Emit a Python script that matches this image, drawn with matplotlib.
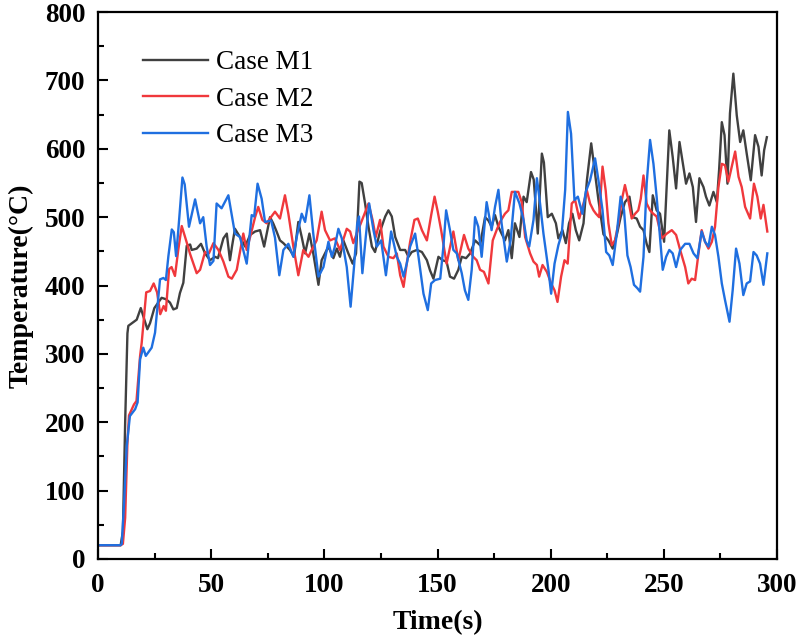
import matplotlib

matplotlib.use("Agg")
import matplotlib.pyplot as plt
from matplotlib.ticker import MultipleLocator

# Case M1 (dark grey)
t_m1 = [0, 10, 11, 12, 13, 13.4, 17.1, 18.9, 20.5, 21.8, 23, 24.9, 28.1, 30, 31.8, 33.3,
        34.8, 36.2, 37.7, 39.2, 40.7, 41.4, 43.6, 45.5, 47.3, 49.5, 51.7, 53, 55.4, 56.9,
        58.3, 59.2, 60.5, 62.7, 65.0, 67.2, 69.4, 71.6, 73.4, 76.0, 77.4, 78.9, 80.4, 81.9,
        84.8, 86.6, 88.5, 90.0, 91.5, 93.4, 95.1, 97.4, 98.8, 100.3, 101.8, 104.0, 105.5,
        106.9, 108.4, 110.6, 112.5, 114.0, 115.5, 116.5, 118.0, 119.5, 121.0, 122.4, 124.6,
        126.9, 128.3, 129.8, 131.3, 133.5, 135.7, 137.2, 138.6, 140.9, 143.1, 145.3, 146.7,
        148.2, 150.4, 152.2, 154.0, 155.5, 157.3, 159.2, 160.7, 162.6, 164.4, 166.6, 168.8,
        171.0, 172.5, 173.9, 175.4, 176.9, 178.3, 179.8, 181.3, 182.8, 184.2, 186.2, 188.0,
        189.4, 191.3, 192.5, 194.3, 196.1, 197, 198.7, 200.5, 202.3, 203.4, 205.2, 206.7,
        208.1, 209.6, 211.1, 212.6, 214.5, 216.0, 217.9, 219.6, 221.1, 223.3, 225.5, 227.4,
        229.2, 230.9, 232.8, 234.8, 236.2, 238.0, 239.5, 241.0, 242.4, 243.6, 245.1, 246.8,
        248.3, 250.1, 252.4, 253.9, 255.4, 256.9, 258.6, 259.8, 261.3, 262.8, 264.2, 265.7,
        267.5, 268.6, 270.1, 271.9, 273.4, 274.4, 275.6, 276.8, 278.1, 279.2, 280.7, 282.2,
        283.7, 285.1, 286.6, 288.4, 290.3, 291.8, 293.2, 294.3, 295.5]
temp_m1 = [20, 20, 40, 200, 330, 341, 350, 367, 350, 336, 345, 367, 382, 380, 375, 365,
           367, 389, 404, 458, 460, 452, 454, 461, 447, 437, 442, 440, 469, 476,
           437, 457, 483, 471, 457, 474, 479, 481, 457, 500, 491, 479, 466, 462,
           452, 442, 493, 471, 447, 476, 447, 401, 437, 447, 457, 440, 454,
           442, 466, 447, 432, 447, 552, 550, 520, 486, 457, 449, 479,
           501, 510, 501, 471, 452, 452, 442, 449, 452, 449, 437, 422,
           410, 442, 437, 435, 413, 410, 423, 442, 440, 447, 466, 459,
           500, 495, 486, 503, 486, 476, 466, 481, 440, 491, 471, 530,
           522, 566, 555, 476, 593, 580, 500, 505, 491, 469, 481, 462,
           491, 505, 481, 466, 491, 554, 608, 564, 525, 475, 466, 454,
           474, 500, 522, 530, 500, 498, 486, 481, 461, 449, 532, 510,
           505, 464, 627, 588, 542, 610, 574, 549, 564, 544, 493, 557,
           544, 530, 517, 537, 522, 569, 639, 620, 549, 652, 710, 649,
           610, 627, 593, 554, 620, 603, 561, 598, 617]

# Case M2 (red)
t_m2 = [0, 10, 11, 12, 13, 13.7, 15.9, 17, 18.6, 19.3, 21.3, 23, 24.6, 26.1, 27.5, 29.0,
        30.0, 31.4, 32.5, 34.0, 35.5, 37.0, 39.2, 40.7, 43.6, 45.1, 47.3, 49, 51.0, 53.2,
        55.4, 57.6, 59.1, 61.3, 62.7, 64.2, 65.7, 67.6, 69.4, 70.8, 72.6, 74.5, 76.4, 78.2,
        80.4, 82.6, 84.1, 86.3, 88.5, 90.7, 93.0, 94.4, 96.6, 98.8, 100.3, 102.5, 104.7,
        106.9, 109.9, 111.4, 112.8, 114.6, 116, 119.5, 121.3, 122.7, 124.6, 126.1, 128.3,
        130.5, 132.0, 133.5, 135.0, 136.4, 137.9, 139.8, 141.3, 143.1, 145.3, 147.2, 148.7,
        150.1, 151.6, 154.0, 157.0, 159.2, 161.7, 163.6, 165.8, 167.3, 168.8, 170.5, 172.5,
        174.4, 176.1, 177.6, 179.8, 181.3, 182.8, 184.2, 185.7, 187.2, 188.7, 190.9, 192.4,
        193.9, 194.9, 196.4, 198.3, 200.2, 201.7, 203.0, 204.6, 206.1, 207.5, 209.3, 210.8,
        212.6, 214.5, 216.0, 217.4, 218.9, 220, 221.4, 222.9, 224.3, 225.5, 227.0, 228.4,
        229.9, 231.4, 232.8, 234.3, 235.8, 237.3, 238.7, 239.8, 241.0, 242.4, 243.9, 245.3,
        246.8, 249.1, 251.3, 253.5, 255.4, 257.2, 259.4, 260.8, 262.3, 263.8, 265.3, 266.7,
        268.2, 269.7, 271.2, 272.6, 274.1, 275.6, 277, 278.5, 280.0, 281.5, 283.0, 284.4,
        285.9, 288.1, 289.8, 291.3, 292.8, 294.0, 295.7]
temp_m2 = [20, 20, 22, 60, 170, 210, 226, 231, 297, 316, 390, 392, 403, 390, 358, 370,
           363, 424, 427, 414, 453, 487, 463, 446, 418, 423, 449, 447, 462, 452,
           435, 413, 410, 423, 449, 476, 452, 476, 500, 515, 496, 491, 500, 508,
           498, 532, 505, 457, 415, 452, 442, 452, 466, 508, 481, 466, 469,
           452, 483, 479, 462, 479, 490, 520, 496, 471, 496, 457, 442,
           440, 447, 415, 398, 432, 464, 496, 498, 481, 466, 503, 530,
           508, 481, 432, 479, 437, 474, 454, 442, 437, 423, 420, 403,
           466, 481, 493, 505, 510, 537, 537, 537, 522, 471, 447, 435,
           430, 413, 430, 420, 403, 393, 376, 413, 437, 432, 520, 525,
           498, 520, 539, 520, 510, 505, 500, 574, 539, 491, 459, 466,
           491, 525, 547, 525, 498, 505, 510, 527, 561, 520, 510, 505,
           501, 469, 476, 481, 474, 452, 427, 403, 410, 408, 447, 481,
           464, 454, 464, 486, 544, 578, 576, 552, 574, 596, 559, 544,
           515, 498, 549, 530, 498, 518, 479]

# Case M3 (blue)
t_m3 = [0, 10, 10.5, 11.5, 12.7, 14.1, 16.4, 17.5, 18.6, 20.0, 21.1, 23.7, 25.2, 27.4,
        28.9, 30, 31.1, 32.6, 33.5, 34.5, 35.5, 37.3, 38.3, 40.2, 42.9, 45.1, 46.5, 48.0,
        49.5, 51, 52.4, 54.6, 57.6, 60.5, 62.7, 65.7, 67.9, 69, 70.5, 72.3, 73.8, 76.5,
        78.2, 80.1, 81.9, 84.1, 86.3, 87.8, 90.0, 91.5, 93.4, 95.1, 97.4, 99.6, 101.8,
        103.3, 104.5, 106.2, 107.7, 109.9, 111.6, 113.1, 114.5, 115.3, 116.8, 118.3, 119.8,
        121.7, 123.2, 125.1, 127.2, 129.5, 132.0, 133.5, 135.0, 136.4, 137.9, 140.1, 141.6,
        143.8, 145.7, 147.2, 148.9, 151.2, 152.6, 153.8, 155.5, 157.0, 158.5, 160.7, 162.1,
        163.6, 165.1, 166.6, 168.0, 169.5, 171.7, 173.9, 175.4, 176.9, 178.3, 180.6, 182.3,
        184.2, 186.2, 188.0, 189.4, 190.5, 192.4, 193.9, 195.3, 196.8, 199.0, 200.2, 201.7,
        203.4, 204.9, 206.4, 207.6, 209.0, 210.5, 212.0, 214.0, 215.5, 217.4, 219.6, 221.1,
        222.9, 224.5, 225.9, 227.4, 229.2, 230.9, 232.4, 233.9, 235.3, 236.8, 238.3, 239.5,
        241.0, 242.4, 243.9, 245.4, 246.8, 248.3, 249.5, 251.0, 252.4, 253.9, 255.4, 257.2,
        259.4, 261.3, 263.1, 264.8, 266.7, 268.2, 269.7, 271.2, 272.6, 274.1, 275.6, 277.0,
        279.0, 280.4, 281.9, 283.4, 285.1, 286.6, 288.1, 289.6, 291.0, 292.5, 294.0, 295.7]
temp_m3 = [20, 20, 22, 80, 165, 209, 219, 229, 292, 309, 297, 309, 331, 409,
           411, 408, 443, 482, 478, 443, 482, 558, 548, 486, 526, 491, 500, 457,
           430, 436, 520, 513, 532, 476, 471, 432, 503, 501, 549, 527, 493, 495,
           470, 415, 452, 461, 442, 471, 505, 493, 532, 476, 413, 427, 464,
           442, 455, 483, 469, 427, 369, 427, 490, 501, 418, 471, 520,
           481, 457, 466, 415, 479, 442, 432, 413, 432, 457, 476, 442,
           388, 364, 403, 408, 410, 457, 510, 481, 452, 447, 418, 393,
           379, 423, 500, 486, 442, 522, 481, 515, 540, 491, 435, 466,
           537, 520, 496, 466, 457, 496, 557, 520, 476, 423, 388, 432,
           459, 476, 540, 654, 622, 525, 530, 505, 537, 554, 586, 554,
           510, 449, 444, 430, 476, 530, 510, 444, 427, 401, 396, 391,
           442, 549, 613, 578, 530, 471, 423, 442, 452, 447, 427, 452,
           461, 461, 447, 440, 479, 464, 457, 486, 474, 442, 403, 379,
           347, 393, 454, 432, 386, 403, 406, 449, 444, 432, 401, 447]

series = [
    ("Case M1", t_m1, temp_m1, "#404040"),
    ("Case M2", t_m2, temp_m2, "#f0383c"),
    ("Case M3", t_m3, temp_m3, "#1f6fe0"),
]

plt.rcParams["font.family"] = ["Liberation Serif", "DejaVu Serif"]

fig = plt.figure(figsize=(8.0, 6.38), dpi=100)
ax = fig.add_axes([0.1225, 0.124, 0.8488, 0.857])

for label, t, temp, color in series:
    ax.plot(t, temp, color=color, linewidth=1.7, label=label)

ax.set_xlim(0, 300)
ax.set_ylim(0, 800)
ax.xaxis.set_major_locator(MultipleLocator(50))
ax.xaxis.set_minor_locator(MultipleLocator(25))
ax.yaxis.set_major_locator(MultipleLocator(100))
ax.yaxis.set_minor_locator(MultipleLocator(50))
ax.tick_params(which="both", direction="in", top=False, right=False, width=1.5)
ax.tick_params(which="major", length=7)
ax.tick_params(which="minor", length=4)
ax.tick_params(axis="x", which="major", pad=10, labelsize=19.5)
ax.tick_params(axis="y", which="major", pad=9, labelsize=19.5)
for lab in ax.get_xticklabels() + ax.get_yticklabels():
    lab.set_fontweight("bold")
for sp in ax.spines.values():
    sp.set_linewidth(1.6)

ax.set_xlabel("Time(s)", fontsize=20, fontweight="bold", labelpad=9)
ax.set_ylabel("Temperature(\u00b0C)", fontsize=20, fontweight="bold", labelpad=8)

ax.legend(loc="upper left", bbox_to_anchor=(0.066, 0.93), frameon=False, fontsize=19.5,
          handlelength=2.4, handletextpad=0.3, labelspacing=0.42, borderpad=0,
          borderaxespad=0)

fig.savefig("out.png", dpi=100)
